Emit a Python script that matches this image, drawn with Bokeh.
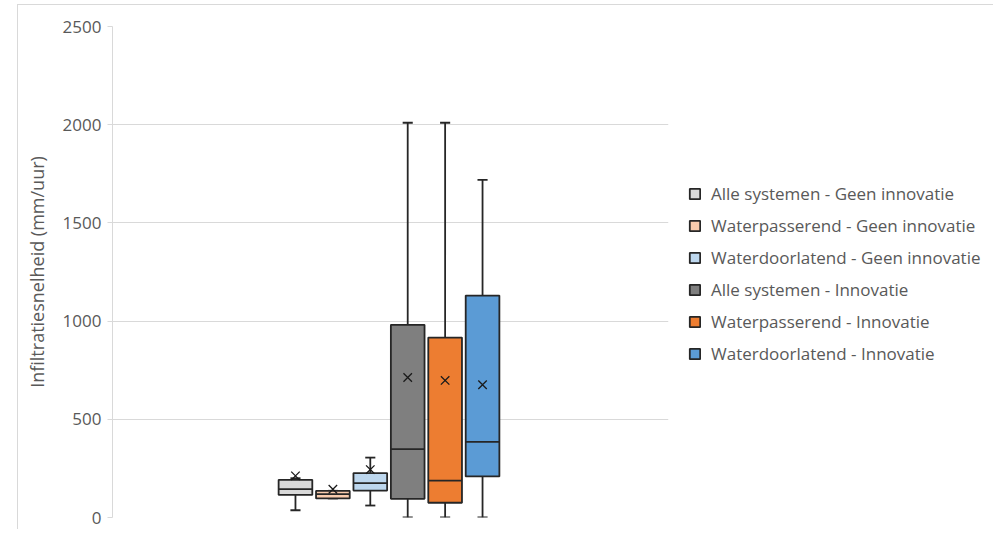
import numpy as np
from bokeh.plotting import figure
from bokeh.models import ColumnDataSource, Range1d, FixedTicker, Legend, LegendItem
from bokeh.embed import file_html
from bokeh.resources import INLINE

# ---- data ----
series = [
    "Alle systemen - Geen innovatie",
    "Waterpasserend - Geen innovatie",
    "Waterdoorlatend - Geen innovatie",
    "Alle systemen - Innovatie",
    "Waterpasserend - Innovatie",
    "Waterdoorlatend - Innovatie",
]
whisker_low = [37, 97, 61, 0, 0, 0]
q1 = [115, 97, 137, 95, 75, 209]
median = [144, 119, 175, 348, 188, 385]
q3 = [192, 136, 226, 981, 916, 1130]
whisker_high = [200, 136, 305, 2010, 2010, 1719]
mean = [212, 144, 244, 713, 698, 676]
colors = ["#d9d9d9", "#f8cbad", "#bdd7ee", "#7f7f7f", "#ed7d31", "#5b9bd5"]
y_ticks = [0, 500, 1000, 1500, 2000, 2500]
y_title = "Infiltratiesnelheid (mm/uur)"

FONT = "Open Sans"
TXT = "#595959"
GRID = "#d9d9d9"
EDGE = "#262626"

box_w = 0.9
cap_w = 0.27

x = np.arange(1, len(series) + 1, dtype=float)
src = ColumnDataSource(dict(
    x=x, name=series, low=whisker_low, q1=q1, med=median, q3=q3, high=whisker_high,
    mean=mean, color=colors,
    bx0=x - box_w / 2, bx1=x + box_w / 2,
    cx0=x - cap_w / 2, cx1=x + cap_w / 2,
))

p = figure(
    frame_width=556, frame_height=491,
    x_range=Range1d(-3.89, 10.97), y_range=Range1d(0, 2500),
    output_backend="svg", toolbar_location=None,
    x_axis_location=None,
    min_border_left=94, min_border_right=320, min_border_top=21, min_border_bottom=12,
    styles={"margin-top": "4px", "margin-left": "17px",
            "border-top": "1px solid #d9d9d9", "border-left": "1px solid #d9d9d9"},
)
p.outline_line_color = None
p.background_fill_color = "white"
p.border_fill_color = "white"

# grid & axis
p.xgrid.visible = False
p.ygrid.grid_line_color = GRID
p.ygrid.grid_line_width = 1
p.yaxis.ticker = FixedTicker(ticks=y_ticks)
yax = p.yaxis[0]
yax.axis_line_color = GRID
yax.major_tick_line_color = GRID
yax.major_tick_out = 5
yax.major_tick_in = 0
yax.minor_tick_line_color = None
yax.major_label_text_font = FONT
yax.major_label_text_font_size = "17px"
yax.major_label_text_color = TXT
yax.major_label_standoff = 6
yax.axis_label = y_title
yax.axis_label_text_font = FONT
yax.axis_label_text_font_size = "18px"
yax.axis_label_text_font_style = "normal"
yax.axis_label_text_color = TXT
yax.axis_label_standoff = 11

LW = 1.8
# whiskers
p.segment(x0="x", y0="q3", x1="x", y1="high", source=src, line_color=EDGE, line_width=LW)
p.segment(x0="x", y0="q1", x1="x", y1="low", source=src, line_color=EDGE, line_width=LW)
p.segment(x0="cx0", y0="high", x1="cx1", y1="high", source=src, line_color=EDGE, line_width=LW)
p.segment(x0="cx0", y0="low", x1="cx1", y1="low", source=src, line_color=EDGE, line_width=LW)

# boxes
boxes = p.vbar(x="x", width=box_w, bottom="q1", top="q3", source=src,
               fill_color="color", line_color=EDGE, line_width=LW)
# median
p.segment(x0="bx0", y0="med", x1="bx1", y1="med", source=src, line_color=EDGE, line_width=LW)
# mean
p.scatter(x="x", y="mean", source=src, marker="x", size=12, line_color="#1a1a1a", line_width=1.3)

items = [LegendItem(label=s, renderers=[boxes], index=i) for i, s in enumerate(series)]
legend = Legend(items=items, location=(20, 152))
legend.padding = 0
legend.margin = 0
legend.border_line_color = None
legend.background_fill_alpha = 0
legend.glyph_width = 13
legend.glyph_height = 13
legend.label_height = 20
legend.spacing = 9
legend.label_standoff = 10
legend.label_text_font = FONT
legend.label_text_font_size = "17px"
legend.label_text_color = TXT
p.add_layout(legend, "right")

open("out.html", "w").write(file_html(p, INLINE))
